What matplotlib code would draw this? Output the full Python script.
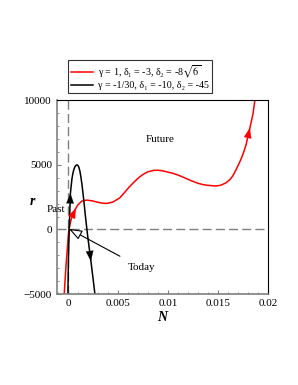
import matplotlib.pyplot as plt
from matplotlib.ticker import MultipleLocator

plt.rcParams['font.family'] = ['Liberation Serif', 'DejaVu Serif']
plt.rcParams['mathtext.fontset'] = 'stix'

# red curve: gamma = 1
red_N = [-0.00037, -0.0002, 0.0, 0.0001, 0.0003, 0.0005, 0.0008, 0.001, 0.0014,
         0.0019, 0.0025, 0.003, 0.0035, 0.0039, 0.0045, 0.0052, 0.0058, 0.0062,
         0.0066, 0.007, 0.0075, 0.008, 0.0086, 0.009, 0.0094, 0.0098, 0.0105,
         0.011, 0.0115, 0.012, 0.0125, 0.013, 0.0135, 0.014, 0.0148, 0.0153,
         0.0158, 0.0162, 0.0165, 0.0168, 0.0172, 0.0175, 0.0178, 0.0182, 0.0185,
         0.0187]
red_r = [-5000, -2900, -900, 0, 700, 1150, 1650, 1900, 2200,
         2270, 2200, 2100, 2030, 2010, 2120, 2450, 2980, 3340,
         3650, 3950, 4250, 4460, 4570, 4580, 4540, 4470, 4340,
         4210, 4050, 3880, 3720, 3570, 3470, 3410, 3360, 3420,
         3600, 3850, 4150, 4600, 5240, 5800, 6500, 7850, 8900,
         10000]

# black curve: gamma = -1/30
blk_N = [0.0, 0.00005, 0.00013, 0.00025, 0.0004, 0.0005, 0.0006, 0.0007, 0.0008,
         0.0009, 0.001, 0.0011, 0.0012, 0.0013, 0.0014, 0.0015, 0.0016, 0.0017,
         0.0018, 0.0019, 0.002, 0.0021, 0.0023, 0.0025, 0.0027]
blk_r = [-5000, -2300, 0, 2800, 3900, 4350, 4650, 4850, 4950,
         4990, 4950, 4800, 4500, 4050, 3500, 2850, 2150, 1400,
         680, 0, -650, -1250, -2450, -3700, -5000]

# index of arrow tail; the head sits on the next point
red_arrows = [5, 42]
blk_arrows = [2, 21]

red_label = 'γ = 1, δ₁ = -3, δ₂ = -8$\\sqrt{6}$'
blk_label = 'γ = -1/30, δ₁ = -10, δ₂ = -45'

fig = plt.figure(figsize=(2.98, 3.85), dpi=100)
ax = fig.add_axes([0.191, 0.236, 0.708, 0.504])

ax.axhline(0, color='grey', ls=(0, (6.5, 3)), lw=1)
ax.axvline(0, color='grey', ls=(0, (6.5, 3)), lw=1)

l1, = ax.plot(red_N, red_r, color='red', lw=1.1, label=red_label)
l2, = ax.plot(blk_N, blk_r, color='black', lw=1.1, label=blk_label)


def arrow_on(N, r, i, color):
    ax.annotate('', xy=(N[i + 1], r[i + 1]), xytext=(N[i], r[i]),
                arrowprops=dict(arrowstyle='-|>,head_width=0.3,head_length=0.8',
                                color=color, lw=0.1, shrinkA=0, shrinkB=0,
                                mutation_scale=9))


for i in red_arrows:
    arrow_on(red_N, red_r, i, 'red')
for i in blk_arrows:
    arrow_on(blk_N, blk_r, i, 'black')

ax.text(0.00925, 6920, 'Future', fontsize=8, ha='center', va='center')
ax.text(-0.00115, 1570, 'Past', fontsize=8, ha='center', va='center', clip_on=False)
ax.text(0.0074, -2920, 'Today', fontsize=8, ha='center', va='center')
ax.annotate('', xy=(0.0001, 50), xytext=(0.0052, -2070),
            arrowprops=dict(arrowstyle='-|>,head_width=0.3,head_length=0.8',
                            fc='white', ec='black', lw=0.8, shrinkA=0, shrinkB=0,
                            mutation_scale=10))

ax.set_xlim(-0.0011, 0.02)
ax.set_ylim(-5000, 10000)
ax.set_xticks([0, 0.005, 0.01, 0.015, 0.02])
ax.set_xticklabels(['0', '0.005', '0.01', '0.015', '0.02'])
ax.set_yticks([-5000, 0, 5000, 10000])
ax.xaxis.set_minor_locator(MultipleLocator(0.001))
ax.yaxis.set_minor_locator(MultipleLocator(1000))
ax.tick_params(which='both', direction='in', labelsize=8, color='grey')
ax.tick_params(which='major', length=3)
ax.tick_params(which='minor', length=1.5)

ax.spines['left'].set_color('grey')
ax.spines['bottom'].set_color('grey')
ax.spines['left'].set_linewidth(1.2)
ax.spines['bottom'].set_linewidth(1.2)

ax.set_xlabel('N', fontsize=10, fontweight='bold', style='italic', labelpad=2)
ax.set_ylabel('r', fontsize=10, fontweight='bold', style='italic', rotation=0,
              va='center', ha='center')
ax.yaxis.set_label_coords(-0.115, 0.48)

leg = fig.legend(handles=[l1, l2], loc='upper left', bbox_to_anchor=(0.228, 0.844),
                 fontsize=7.2, frameon=True, fancybox=False, edgecolor='black',
                 borderpad=0.3, labelspacing=0.15, handlelength=2.2, handletextpad=0.5,
                 borderaxespad=0)
leg.get_frame().set_linewidth(0.8)

fig.savefig('out.png', dpi=100)
